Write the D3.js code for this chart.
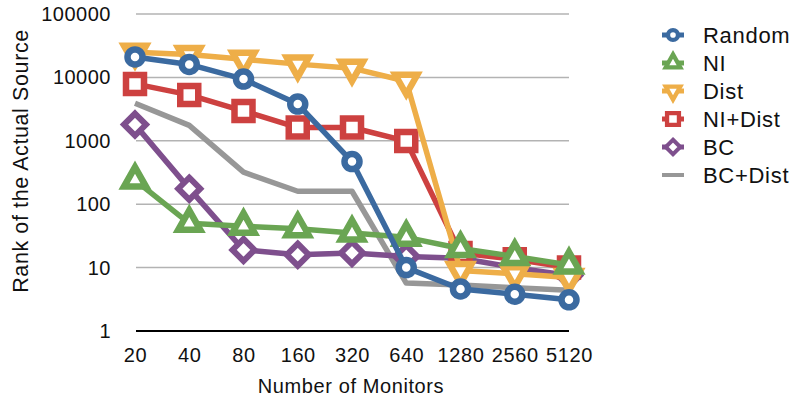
<!DOCTYPE html>
<html>
<head>
<meta charset="utf-8">
<script src="https://cdn.jsdelivr.net/npm/d3@7"></script>
<style>
  html, body { margin: 0; padding: 0; background: #fff; }
  svg { display: block; }
  text { font-family: "Liberation Sans", Arial, Helvetica, sans-serif; fill: #111; }
</style>
</head>
<body>
<svg id="chart" width="795" height="402"></svg>
<script>
// ---- data ----
const categories = ["20", "40", "80", "160", "320", "640", "1280", "2560", "5120"];
const yTicks = [1, 10, 100, 1000, 10000, 100000];
const seriesNames = ["Random", "NI", "Dist", "NI+Dist", "BC", "BC+Dist"];
const randomVals = [21000, 16000, 9400, 3800, 470, 10, 4.6, 3.8, 3.1];
const niVals = [240, 50, 45, 41, 35, 30, 20, 15, 11];
const distVals = [25000, 23000, 19300, 16200, 14000, 8700, 9, 8, 7];
const niDistVals = [7900, 5300, 2950, 1620, 1620, 990, 17, 13.5, 10];
const bcVals = [1800, 176, 19, 16, 17, 15, 14, 10, 7.5];
const bcDistVals = [3900, 1750, 320, 160, 160, 5.7, 5.3, 4.8, 4.4];
const seriesColors = ["#3b6aa0", "#6aa553", "#eeae48", "#cd4140", "#7e4f8d", "#979797"];
const seriesMarkers = ["circle", "triUp", "triDown", "square", "diamond", "none"];

const series = seriesNames.map((name, i) => ({
  name,
  values: [randomVals, niVals, distVals, niDistVals, bcVals, bcDistVals][i],
  color: seriesColors[i],
  marker: seriesMarkers[i]
}));

// ---- layout ----
const svg = d3.select("#chart");
const x = d3.scalePoint().domain(categories).range([135, 569]);
const y = d3.scaleLog().domain([1, 100000]).range([331, 14]);

// gridlines
svg.append("g").selectAll("line")
  .data(yTicks.filter(d => d > 1))
  .join("line")
  .attr("x1", 136).attr("x2", 569)
  .attr("y1", d => y(d)).attr("y2", d => y(d))
  .attr("stroke", "#b3b3b3").attr("stroke-width", 1.5);

// y axis (labels only)
const yAxis = d3.axisLeft(y).tickValues(yTicks).tickFormat(d3.format("d")).tickSize(0).tickPadding(25);
const gy = svg.append("g").attr("transform", "translate(136,0)").call(yAxis);
gy.select(".domain").remove();
gy.selectAll("text")
  .style("font-size", "20px").style("letter-spacing", "0.5px")
  .attr("fill", "#111");

// x axis
const xAxis = d3.axisBottom(x).tickSize(0).tickPadding(0);
const gx = svg.append("g").attr("transform", "translate(0,331)").call(xAxis);
gx.select(".domain").attr("d", "M136,0H569").attr("stroke", "#000").attr("stroke-width", 2);
gx.selectAll("text")
  .attr("y", 31).attr("dy", null)
  .style("font-size", "20px").style("letter-spacing", "0.6px")
  .attr("fill", "#111");

// axis titles
svg.append("text")
  .attr("x", 351).attr("y", 393)
  .attr("text-anchor", "middle")
  .style("font-size", "20px").style("letter-spacing", "0.6px")
  .text("Number of Monitors");
svg.append("text")
  .attr("transform", "translate(28,161) rotate(-90)")
  .attr("text-anchor", "middle")
  .style("font-size", "21.5px").style("letter-spacing", "0.6px")
  .text("Rank of the Actual Source");

// ---- marker shapes ----
function markerPath(type) {
  switch (type) {
    case "circle": return d3.symbol().type(d3.symbolCircle).size(Math.PI * 7.5 * 7.5)();
    case "square": return "M-9,-9H9V9H-9Z";
    case "triUp": return "M0,-13L11,6.5L-11,6.5Z";
    case "triDown": return "M0,13L11,-6.5L-11,-6.5Z";
    case "diamond": return "M0,-11L11,0L0,11L-11,0Z";
    default: return null;
  }
}
function markerStroke(type) {
  return type === "diamond" ? 6 : 6.5;
}

const line = d3.line()
  .x((d, i) => x(categories[i]))
  .y(d => y(d));

// draw series in reverse order so Random is on top
const plot = svg.append("g");
series.slice().reverse().forEach(s => {
  const g = plot.append("g");
  g.append("path")
    .attr("d", line(s.values))
    .attr("fill", "none")
    .attr("stroke", s.color)
    .attr("stroke-width", 5.5)
    .attr("stroke-linejoin", "round");
  if (s.marker !== "none") {
    g.selectAll("path.mk")
      .data(s.values)
      .join("path")
      .attr("class", "mk")
      .attr("d", markerPath(s.marker))
      .attr("transform", (d, i) => `translate(${x(categories[i])},${y(d)})`)
      .attr("fill", "#fff")
      .attr("stroke", s.color)
      .attr("stroke-width", markerStroke(s.marker))
      .attr("stroke-linejoin", "miter");
  }
});

// ---- legend ----
const legend = svg.append("g");
series.forEach((s, i) => {
  const cy = 35 + i * 28;
  const g = legend.append("g").attr("transform", `translate(673,${cy})`);
  g.append("line")
    .attr("x1", -11).attr("x2", 11)
    .attr("stroke", s.color).attr("stroke-width", s.marker === "none" ? 4 : 5);
  if (s.marker !== "none") {
    g.append("path")
      .attr("d", markerPath(s.marker))
      .attr("transform", "scale(0.66)")
      .attr("fill", "#fff")
      .attr("stroke", s.color)
      .attr("stroke-width", markerStroke(s.marker))
      .attr("stroke-linejoin", "miter");
  }
  g.append("text")
    .attr("x", 30).attr("y", 0).attr("dy", "0.35em")
    .style("font-size", "22px").style("letter-spacing", "0.7px")
    .text(s.name);
});
</script>
</body>
</html>
